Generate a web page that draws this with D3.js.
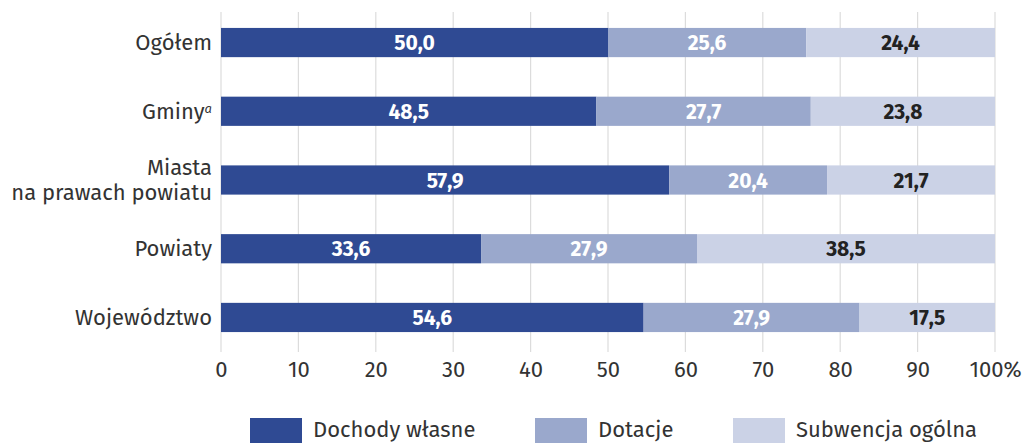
<!DOCTYPE html>
<html><head><meta charset="utf-8">
<script src="https://cdn.jsdelivr.net/npm/d3@7"></script>
<style>body{margin:0;background:#fff}svg{display:block}text{font-family:"Fira Sans","Open Sans",sans-serif}</style>
</head><body><svg id="c" width="1030" height="443"></svg>
<script>
const categories = ["Ogółem","Gminy","Miasta na prawach powiatu","Powiaty","Województwo"];
const dochody = [50.0,48.5,57.9,33.6,54.6];
const dotacje = [25.6,27.7,20.4,27.9,27.9];
const subwencja = [24.4,23.8,21.7,38.5,17.5];
const seriesNames = ["Dochody własne","Dotacje","Subwencja ogólna"];
const tickValues = [0,10,20,30,40,50,60,70,80,90,100];
const colors = ["#2f4a93","#9aa8cc","#cbd2e6"];
const labelColors = ["#ffffff","#ffffff","#222222"];
const FS = 22;

const svg = d3.select("#c");
const x = d3.scaleLinear().domain([0,100]).range([221,995]);
const y = d3.scaleBand().domain(categories).range([8,352]).paddingInner(0.575).paddingOuter(0.29);

svg.append("g").selectAll("line").data(tickValues).join("line")
  .attr("x1",d=>x(d)).attr("x2",d=>x(d)).attr("y1",12).attr("y2",352)
  .attr("stroke","#dcdcdc").attr("stroke-width",1.2);

const rows = categories.map((c,i)=>({c, vals:[dochody[i],dotacje[i],subwencja[i]]}));
const segs = [];
rows.forEach(r=>{let s=0; r.vals.forEach((v,k)=>{segs.push({c:r.c,k,x0:s,x1:s+v,v}); s+=v;});});

svg.append("g").selectAll("rect").data(segs).join("rect")
  .attr("x",d=>x(d.x0)).attr("width",d=>x(d.x1)-x(d.x0))
  .attr("y",d=>y(d.c)).attr("height",y.bandwidth())
  .attr("fill",d=>colors[d.k]);

svg.append("g").selectAll("text").data(segs).join("text")
  .attr("x",d=>(x(d.x0)+x(d.x1))/2).attr("y",d=>y(d.c)+y.bandwidth()/2)
  .attr("dy","0.36em").attr("text-anchor","middle")
  .attr("font-size",21).attr("font-weight","bold")
  .attr("fill",d=>labelColors[d.k])
  .text(d=>d3.format(".1f")(d.v).replace(".",","));

const cl = svg.append("g");
categories.forEach(c=>{
  const cy = y(c)+y.bandwidth()/2;
  if(c==="Miasta na prawach powiatu"){
    cl.append("text").attr("x",212).attr("y",cy-12.5).attr("dy","0.35em").attr("text-anchor","end").attr("font-size",FS).attr("fill","#333").text("Miasta");
    cl.append("text").attr("x",212).attr("y",cy+12.5).attr("dy","0.35em").attr("text-anchor","end").attr("font-size",FS).attr("fill","#333").text("na prawach powiatu");
  } else if(c==="Gminy"){
    const t = cl.append("text").attr("x",212).attr("y",cy).attr("dy","0.35em").attr("text-anchor","end").attr("font-size",FS).attr("fill","#333");
    t.append("tspan").text("Gminy");
    t.append("tspan").attr("dy","-0.45em").attr("font-size",13).attr("font-style","italic").text("a");
  } else {
    cl.append("text").attr("x",212).attr("y",cy).attr("dy","0.35em").attr("text-anchor","end").attr("font-size",FS).attr("fill","#333").text(c);
  }
});

const ax = svg.append("g").attr("transform","translate(0,352)")
  .call(d3.axisBottom(x).tickValues(tickValues).tickSize(0).tickPadding(9).tickFormat(d=>d===100?"100%":d));
ax.select(".domain").remove();
ax.selectAll("text").attr("font-size",FS).attr("fill","#333").attr("font-family","'Fira Sans','Open Sans',sans-serif");

const legX = [250,535,733];
const lg = svg.append("g");
seriesNames.forEach((n,i)=>{
  lg.append("rect").attr("x",legX[i]).attr("y",418).attr("width",52).attr("height",25).attr("fill",colors[i]);
  lg.append("text").attr("x",legX[i]+63).attr("y",429).attr("dy","0.35em").attr("font-size",FS).attr("fill","#333").text(n);
});
</script></body></html>
